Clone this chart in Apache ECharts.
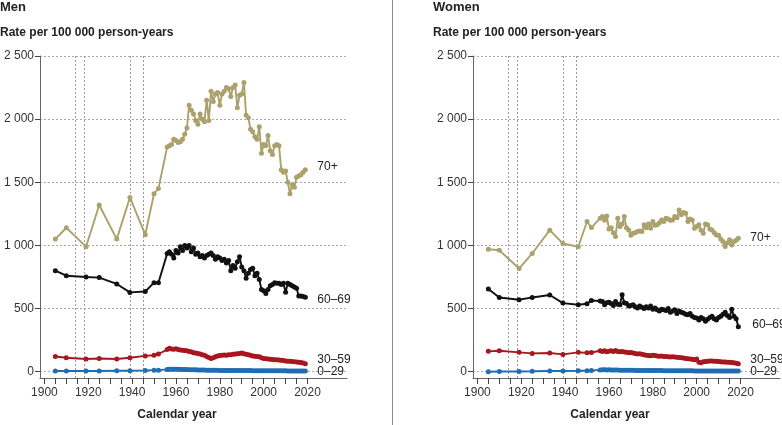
<!DOCTYPE html>
<html><head><meta charset="utf-8">
<script src="https://cdn.jsdelivr.net/npm/echarts@6/dist/echarts.min.js"></script>
<style>html,body{margin:0;padding:0;background:#fff}#c{width:782px;height:425px}</style>
</head><body><div id="c"></div>
<script>
// ---- data ----
const years = [1905,1910,1919,1925,1933,1939,1946,1950,1952,
  1956,1957,1958,1959,1960,1961,1962,1963,1964,1965,
  1966,1967,1968,1969,1970,1971,1972,1973,1974,1975,
  1976,1977,1978,1979,1980,1981,1982,1983,1984,1985,
  1986,1987,1988,1989,1990,1991,1992,1993,1994,1995,
  1996,1997,1998,1999,2000,2001,2002,2003,2004,2005,
  2006,2007,2008,2009,2010,2011,2012,2013,2014,2015,
  2016,2017,2018,2019];

const men70 = [1050,1140,990,1320,1050,1380,1085,1410,1450,
  1780,1790,1800,1840,1830,1815,1820,1840,1880,1930,
  2110,2070,2040,1990,1960,2040,2000,1980,2150,1990,
  2220,2140,2200,2210,2110,2200,2220,2250,2240,2180,
  2250,2270,2090,2190,2200,2290,2030,2010,1920,1900,
  1860,1840,1940,1730,1800,1790,1870,1750,1720,1790,
  1800,1790,1600,1580,1590,1500,1410,1480,1460,1540,
  1550,1560,1580,1600];
const men60 = [800,760,750,745,695,628,635,705,705,
  935,950,930,900,960,940,990,960,1000,980,
  1000,950,980,930,940,910,920,900,920,930,
  940,920,890,910,900,880,890,860,880,800,
  840,820,870,910,830,800,740,780,810,820,
  760,780,730,650,640,620,650,680,690,705,
  700,700,690,700,630,700,690,680,670,660,
  600,600,595,590];
const men30 = [120,110,100,105,100,110,125,130,140,
  175,185,180,178,182,176,172,170,168,165,
  160,158,150,148,145,140,135,130,120,112,
  105,110,118,125,128,130,132,130,135,134,
  138,140,142,145,148,142,138,135,130,125,
  122,120,118,110,105,102,100,98,96,95,
  94,92,90,88,85,83,82,80,78,76,
  75,72,68,63];
const men0 = [5,5,5,5,8,8,10,12,12,
  18,20,20,19,20,19,18,18,17,17,
  16,16,15,15,14,14,13,13,12,12,
  12,11,11,11,10,10,10,10,10,10,
  10,10,10,10,9,9,9,9,9,8,
  8,8,8,8,8,7,7,7,7,7,
  7,7,7,7,7,6,6,6,6,6,
  6,6,6,6];

const women70 = [970,962,817,936,1121,1015,989,1189,1141,
  1216,1228,1200,1232,1130,1140,1100,1070,1216,1150,
  1170,1228,1140,1123,1080,1097,1100,1110,1115,1110,
  1163,1140,1170,1136,1189,1160,1163,1180,1202,1190,
  1216,1210,1200,1202,1228,1220,1281,1242,1260,1255,
  1189,1210,1202,1136,1150,1163,1120,1097,1170,1163,
  1130,1123,1100,1083,1080,1050,1030,991,1020,1044,
  1004,1030,1040,1057];
const women60 = [654,588,570,588,607,543,530,538,564,
  560,555,530,545,550,540,525,555,535,530,
  610,545,540,520,525,530,515,505,520,510,
  500,515,505,520,495,505,490,480,495,490,
  485,500,470,480,490,460,480,470,465,455,
  450,460,440,430,425,410,430,420,400,415,
  430,440,420,410,430,440,455,470,445,430,
  495,440,420,355];
const women30 = [161,166,153,145,148,137,153,150,152,
  166,160,165,158,162,165,160,168,160,158,
  160,155,153,150,152,148,145,140,142,138,
  135,130,128,127,130,128,125,122,125,120,
  120,118,116,118,116,115,112,110,108,105,
  102,100,98,95,100,75,70,78,80,82,
  85,84,83,82,80,78,77,76,75,74,
  72,70,66,63];
const women0 = [0,2,2,3,5,6,7,8,10,
  14,15,15,14,15,14,14,13,13,12,
  12,12,12,11,11,11,10,10,10,10,
  10,10,10,9,9,9,9,9,9,8,
  8,8,8,8,8,8,7,7,7,7,
  7,7,7,6,6,6,6,6,6,6,
  6,6,5,5,5,5,5,5,5,5,
  5,5,5,5];

const warYears = [1914, 1918, 1939, 1945];
const yTicks = [0, 500, 1000, 1500, 2000, 2500];
const xLabels = [1900, 1920, 1940, 1960, 1980, 2000, 2020];
const xTicks = [1900,1905,1910,1915,1920,1925,1930,1935,1940,1945,1950,1955,1960,1965,1970,1975,1980,1985,1990,1995,2000,2005,2010,2015,2020];
const groupNames = ['70+', '60–69', '30–59', '0–29'];

// ---- chart ----
const FONT = 'Liberation Sans, Arial, Helvetica, sans-serif';
const colors = ['#aba16c', '#111111', '#a8161f', '#1f6db3'];
const fmt = v => String(v).replace(/\B(?=(\d{3})+(?!\d))/g, ' ');

function pairs(vals) { return years.map((y, i) => [y, vals[i]]); }

const labelOffsets = [
  [[4, -3], [4, 3], [4, -4], [4, 1]],
  [[4, -1], [6, -2], [4, -4], [4, 1]]
];

function mkSeries(gi, vals, k) {
  const s = {
    type: 'line',
    xAxisIndex: gi, yAxisIndex: gi,
    data: pairs(vals),
    symbol: 'circle', symbolSize: 5,
    showSymbol: true,
    lineStyle: { color: colors[k], width: 1.9 },
    itemStyle: { color: colors[k] },
    z: 10 - k,
    endLabel: {
      show: true, formatter: groupNames[k], color: '#222',
      fontFamily: FONT, fontSize: 12, offset: labelOffsets[gi][k]
    },
    emphasis: { disabled: true }
  };
  if (k === 0) {
    s.markLine = {
      silent: true, symbol: 'none', animation: false,
      label: { show: false },
      lineStyle: { color: '#9a9a9a', type: [2, 2], width: 1 },
      data: warYears.map(y => ({ xAxis: y }))
    };
  }
  return s;
}

function xAxis(gi) {
  return {
    type: 'value', gridIndex: gi, min: 1898, max: 2038,
    axisLine: { show: true, onZero: false, lineStyle: { color: '#666', width: 1 } },
    axisTick: { show: true, customValues: xTicks, length: 6, lineStyle: { color: '#444' } },
    axisLabel: { customValues: xLabels, color: '#333', fontFamily: FONT, fontSize: 12, margin: 9, formatter: v => String(v) },
    splitLine: { show: false }
  };
}
function yAxis(gi) {
  return {
    type: 'value', gridIndex: gi, min: -50, max: 2500,
    axisLine: { show: true, lineStyle: { color: '#666', width: 1 } },
    axisTick: { show: true, customValues: yTicks, length: 5, lineStyle: { color: '#444' } },
    axisLabel: { customValues: yTicks, color: '#333', fontFamily: FONT, fontSize: 12, margin: 6, formatter: fmt },
    splitLine: { show: true, lineStyle: { color: '#a8a8a8', type: [2, 2], width: 1 } }
  };
}

const chart = echarts.init(document.getElementById('c'), null, { renderer: 'canvas' });
chart.setOption({
  animation: false,
  backgroundColor: '#fff',
  grid: [
    { left: 40, top: 56, width: 307, height: 322 },
    { left: 473, top: 56, width: 307, height: 322 }
  ],
  xAxis: [xAxis(0), xAxis(1)],
  yAxis: [yAxis(0), yAxis(1)],
  series: [
    mkSeries(0, men70, 0), mkSeries(0, men60, 1), mkSeries(0, men30, 2), mkSeries(0, men0, 3),
    mkSeries(1, women70, 0), mkSeries(1, women60, 1), mkSeries(1, women30, 2), mkSeries(1, women0, 3)
  ],
  graphic: [
    { type: 'text', left: 0, top: 1, style: { text: 'Men', font: 'bold 13px ' + FONT, fill: '#222' } },
    { type: 'text', left: 0, top: 27, style: { text: 'Rate per 100 000 person-years', font: 'bold 12px ' + FONT, fill: '#222' } },
    { type: 'text', left: 433, top: 1, style: { text: 'Women', font: 'bold 13px ' + FONT, fill: '#222' } },
    { type: 'text', left: 433, top: 27, style: { text: 'Rate per 100 000 person-years', font: 'bold 12px ' + FONT, fill: '#222' } },
    { type: 'text', x: 177, y: 409, style: { text: 'Calendar year', font: 'bold 12px ' + FONT, fill: '#222', align: 'center' } },
    { type: 'text', x: 610, y: 409, style: { text: 'Calendar year', font: 'bold 12px ' + FONT, fill: '#222', align: 'center' } },
    { type: 'line', shape: { x1: 392.5, y1: 0, x2: 392.5, y2: 425 }, style: { stroke: '#888', lineWidth: 1 } }
  ]
});
</script>
</body></html>
